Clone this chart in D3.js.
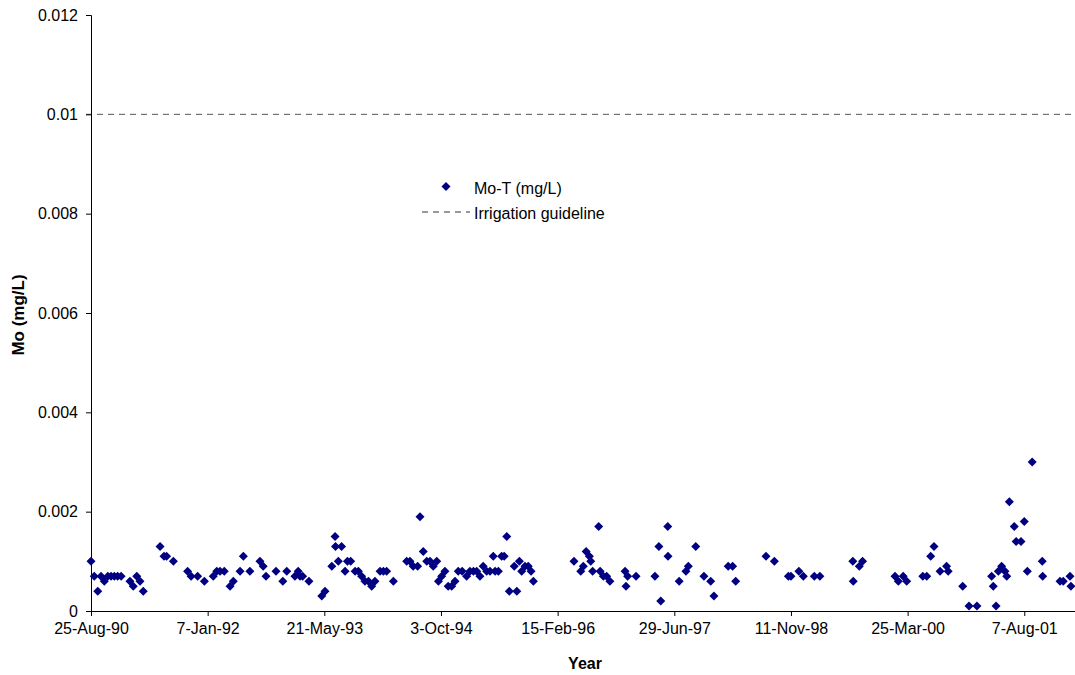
<!DOCTYPE html>
<html>
<head>
<meta charset="utf-8">
<script src="https://cdn.jsdelivr.net/npm/d3@7"></script>
<style>
  html, body { margin: 0; padding: 0; background: #fff; }
  svg { display: block; font-family: Arial, "Liberation Sans", sans-serif; }
</style>
</head>
<body>
<svg id="chart" width="1075" height="675"></svg>
<script>
// Sample dates as Excel serial day numbers
const sampleDates = [
  33110,33124,33139,33153,33167,33182,33196,33210,33224,33239,
  33277,33291,33306,33320,33334,33406,33423,33434,33463,33524,
  33539,33567,33596,33634,33649,33663,33681,33706,33720,33749,
  33763,33791,33834,33848,33860,33903,33932,33949,33984,33998,
  34006,34017,34044,34099,34113,34142,34156,34158,34170,34184,
  34199,34209,34223,34242,34256,34270,34284,34299,34313,34327,
  34349,34363,34377,34406,34463,34477,34491,34510,34520,34534,
  34549,34563,34577,34592,34599,34613,34627,34641,34656,34670,
  34684,34701,34720,34734,34749,34763,34777,34791,34806,34820,
  34834,34842,34856,34870,34881,34892,34903,34924,34935,34946,
  34956,34970,34984,34996,35006,35180,35209,35220,35232,35246,
  35252,35260,35286,35292,35306,35320,35334,35399,35403,35410,
  35446,35527,35544,35552,35582,35583,35631,35660,35670,35702,
  35737,35766,35780,35841,35860,35873,36003,36039,36099,36110,
  36144,36163,36210,36234,36375,36377,36403,36417,36556,36570,
  36591,36606,36675,36692,36709,36723,36749,36777,36784,36846,
  36873,36907,36970,36977,36989,36999,37013,37027,37035,37046,
  37067,37075,37096,37110,37123,37144,37187,37189,37263,37277,
  37306,37310
];
// Mo-T (mg/L)
const moValues = [
  0.0010,0.0007,0.0004,0.0007,0.0006,0.0007,0.0007,0.0007,0.0007,0.0007,
  0.0006,0.0005,0.0007,0.0006,0.0004,0.0013,0.0011,0.0011,0.0010,0.0008,
  0.0007,0.0007,0.0006,0.0007,0.0008,0.0008,0.0008,0.0005,0.0006,0.0008,
  0.0011,0.0008,0.0010,0.0009,0.0007,0.0008,0.0006,0.0008,0.0007,0.0008,
  0.0007,0.0007,0.0006,0.0003,0.0004,0.0009,0.0015,0.0013,0.0010,0.0013,
  0.0008,0.0010,0.0010,0.0008,0.0008,0.0007,0.0006,0.0006,0.0005,0.0006,
  0.0008,0.0008,0.0008,0.0006,0.0010,0.0010,0.0009,0.0009,0.0019,0.0012,
  0.0010,0.0010,0.0009,0.0010,0.0006,0.0007,0.0008,0.0005,0.0005,0.0006,
  0.0008,0.0008,0.0007,0.0008,0.0008,0.0008,0.0007,0.0009,0.0008,0.0008,
  0.0011,0.0008,0.0008,0.0011,0.0011,0.0015,0.0004,0.0009,0.0004,0.0010,
  0.0008,0.0009,0.0009,0.0008,0.0006,0.0010,0.0008,0.0009,0.0012,0.0011,
  0.0010,0.0008,0.0017,0.0008,0.0007,0.0007,0.0006,0.0008,0.0005,0.0007,
  0.0007,0.0007,0.0013,0.0002,0.0017,0.0011,0.0006,0.0008,0.0009,0.0013,
  0.0007,0.0006,0.0003,0.0009,0.0009,0.0006,0.0011,0.0010,0.0007,0.0007,
  0.0008,0.0007,0.0007,0.0007,0.0010,0.0006,0.0009,0.0010,0.0007,0.0006,
  0.0007,0.0006,0.0007,0.0007,0.0011,0.0013,0.0008,0.0009,0.0008,0.0005,
  0.0001,0.0001,0.0007,0.0005,0.0001,0.0008,0.0009,0.0008,0.0007,0.0022,
  0.0017,0.0014,0.0014,0.0018,0.0008,0.0030,0.0010,0.0007,0.0006,0.0006,
  0.0007,0.0005
];
const guidelineValue = 0.01;
const xTickSerials = [33110,33610,34110,34610,35110,35610,36110,36610,37110];
const yTickValues = [0,0.002,0.004,0.006,0.008,0.01,0.012];
const seriesNames = ["Mo-T (mg/L)", "Irrigation guideline"];
const axisTitles = { x: "Year", y: "Mo (mg/L)" };

(function () {
const svg = d3.select("#chart");
const mLeft = 91, mRight = 1076, mTop = 15, mBottom = 611;
const xDomainMax = 33110 + (mRight - mLeft) * 500 / 116.66;
const FONT = "Arial, 'Liberation Sans', sans-serif";

const x = d3.scaleLinear().domain([33110, xDomainMax]).range([mLeft, mRight]);
const y = d3.scaleLinear().domain([0, 0.012]).range([mBottom, mTop]);

const serialToDate = s => new Date(Date.UTC(1899, 11, 30) + s * 86400000);
const fmtDate = d3.utcFormat("%-d-%b-%y");

// guideline
svg.append("line")
  .attr("x1", x(33110) - 5).attr("x2", mRight)
  .attr("y1", y(guidelineValue)).attr("y2", y(guidelineValue))
  .attr("stroke", "#555").attr("stroke-width", 1)
  .attr("stroke-dasharray", "6,5");

// axes
const xAxis = d3.axisBottom(x).tickValues(xTickSerials)
  .tickFormat(s => fmtDate(serialToDate(s))).tickSizeOuter(0).tickSize(5).tickPadding(7);
const gx = svg.append("g").attr("transform", `translate(0,${mBottom})`).call(xAxis);
const yAxis = d3.axisLeft(y).tickValues(yTickValues)
  .tickFormat(v => String(+v.toFixed(3))).tickSizeOuter(0).tickSize(5).tickPadding(8);
const gy = svg.append("g").attr("transform", `translate(${mLeft},0)`).call(yAxis);
[gx, gy].forEach(g => {
  g.selectAll("path").attr("stroke", "#000").attr("stroke-width", 1);
  g.selectAll("line").attr("stroke", "#000");
  g.selectAll("text").attr("fill", "#000").style("font-size", "16px").style("font-family", FONT);
});
gx.select("path.domain").attr("d", `M${mLeft},0.5H${mRight}`);

// points
const diamond = r => `M0,${-r}L${r},0L0,${r}L${-r},0Z`;
svg.append("g").selectAll("path")
  .data(sampleDates.map((d, i) => ({ d, v: moValues[i] })))
  .join("path")
  .attr("d", diamond(4.5))
  .attr("transform", p => `translate(${x(p.d)},${y(p.v)})`)
  .attr("fill", "#000080");

// axis titles
svg.append("text").attr("x", 585).attr("y", 669).attr("text-anchor", "middle")
  .style("font-size", "16px").style("font-weight", "bold").style("font-family", FONT).text(axisTitles.x);
svg.append("text").attr("transform", "translate(24,315) rotate(-90)")
  .attr("text-anchor", "middle").style("font-size", "17px").style("font-weight", "bold")
  .style("font-family", FONT).text(axisTitles.y);

// legend
const lg = svg.append("g").style("font-family", FONT).style("font-size", "16px");
lg.append("path").attr("d", diamond(4.5)).attr("transform", "translate(446,186.5)").attr("fill", "#000080");
lg.append("text").attr("x", 474).attr("y", 194).text(seriesNames[0]);
lg.append("line").attr("x1", 422).attr("x2", 470).attr("y1", 212).attr("y2", 212)
  .attr("stroke", "#333").attr("stroke-dasharray", "6,5");
lg.append("text").attr("x", 474).attr("y", 219).text(seriesNames[1]);
})();
</script>
</body>
</html>
